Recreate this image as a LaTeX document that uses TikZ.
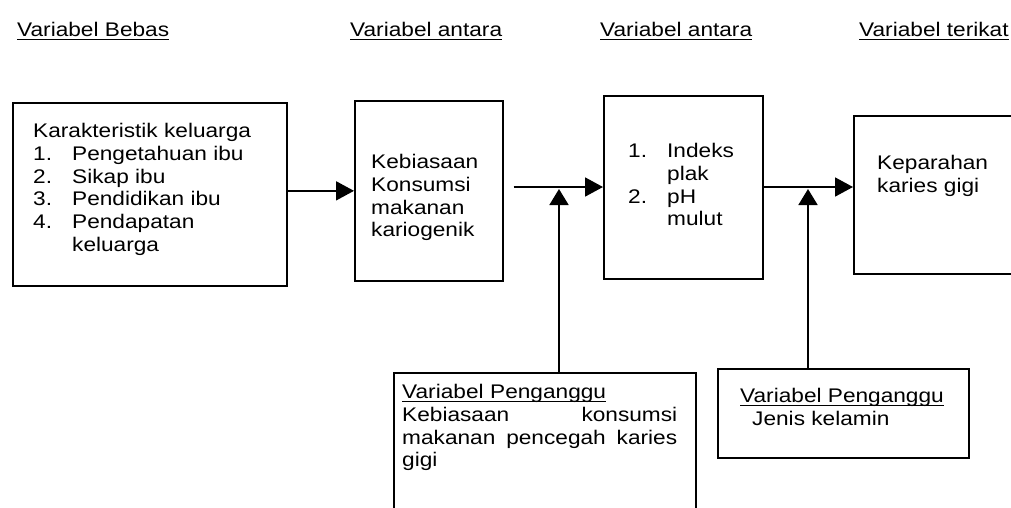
\documentclass[tikz,border=0pt]{standalone}
\usepackage{fontspec}
\setmainfont{Liberation Sans}[FakeStretch=1.15]
\usetikzlibrary{arrows.meta, positioning}

\newlength{\garislen}
\newcommand{\garis}[1]{\settowidth{\garislen}{#1}\rlap{\rule[-4pt]{\garislen}{1.3pt}}#1}
\newcommand{\nomor}[1]{\makebox[39pt][l]{#1}}

\begin{document}
\begin{tikzpicture}[x=1pt, y=-1pt,
    kotak/.style={draw, line width=1.7pt, inner sep=0pt, anchor=north west},
    teks/.style={inner sep=0pt, anchor=north west, align=left, font=\fontsize{19.7}{22.8}\selectfont},
    panah/.style={line width=1.8pt, -{Triangle[length=18pt, width=19pt]}},
    panahv/.style={line width=1.8pt, -{Triangle[length=16pt, width=19pt]}}
]
    \clip (0,0) rectangle (1011,507);

    % Headings
    \node[teks, anchor=base west] (hbebas) at (17,36) {\garis{Variabel Bebas}};
    \node[teks, anchor=base west] (hantara1) at (350,36) {\garis{Variabel antara}};
    \node[teks, anchor=base west] (hantara2) at (600,36) {\garis{Variabel antara}};
    \node[teks, anchor=base west] (hterikat) at (859,36) {\garis{Variabel terikat}};

    % Boxes
    \node[kotak, minimum width=274pt, minimum height=183pt] (kar) at (12,102) {};
    \node[kotak, minimum width=148pt, minimum height=180pt] (keb) at (354,100) {};
    \node[kotak, minimum width=159pt, minimum height=183pt] (ind) at (603,95) {};
    \node[kotak, minimum width=200pt, minimum height=158pt] (kep) at (853,115) {};
    \node[kotak, minimum width=302pt, minimum height=160pt] (ganggu1) at (393,372) {};
    \node[kotak, minimum width=251pt, minimum height=89pt] (ganggu2) at (717,368) {};

    % Box texts
    \node[teks] (tkar) at (33,123) {Karakteristik keluarga\\
        \nomor{1.}Pengetahuan ibu\\
        \nomor{2.}Sikap ibu\\
        \nomor{3.}Pendidikan ibu\\
        \nomor{4.}Pendapatan\\
        \hspace*{39pt}keluarga};
    \node[teks] (tkeb) at (371,154) {Kebiasaan\\ Konsumsi\\ makanan\\ kariogenik};
    \node[teks] (tind) at (628,143) {\nomor{1.}Indeks\\ \hspace*{39pt}plak\\
        \nomor{2.}pH\\ \hspace*{39pt}mulut};
    \node[teks] (tkep) at (877,155) {Keparahan\\ karies gigi};
    \node[teks, text width=275pt] (tganggu1) at (402,384) {\garis{Variabel Penganggu}\\
        Kebiasaan\hfill konsumsi\\
        makanan\hfill pencegah\hfill karies\\
        gigi};
    \node[teks] (tganggu2) at (740,388) {\garis{Variabel Penganggu}\\ \hspace*{12pt}Jenis kelamin};

    % Junctions
    \coordinate (j1) at (559,187);
    \coordinate (j2) at (808,187);

    % Arrows
    \draw[panah] (kar.east |- keb.west) -- (keb.west);
    \draw[panah] ([xshift=10pt]keb.east |- j1) -- (j1 -| ind.west);
    \draw[panah] (ind.east |- j2) -- (j2 -| kep.west);
    \draw[panahv, shorten >=2pt] (ganggu1.north -| j1) -- (j1);
    \draw[panahv, shorten >=2pt] (ganggu2.north -| j2) -- (j2);
\end{tikzpicture}
\end{document}
